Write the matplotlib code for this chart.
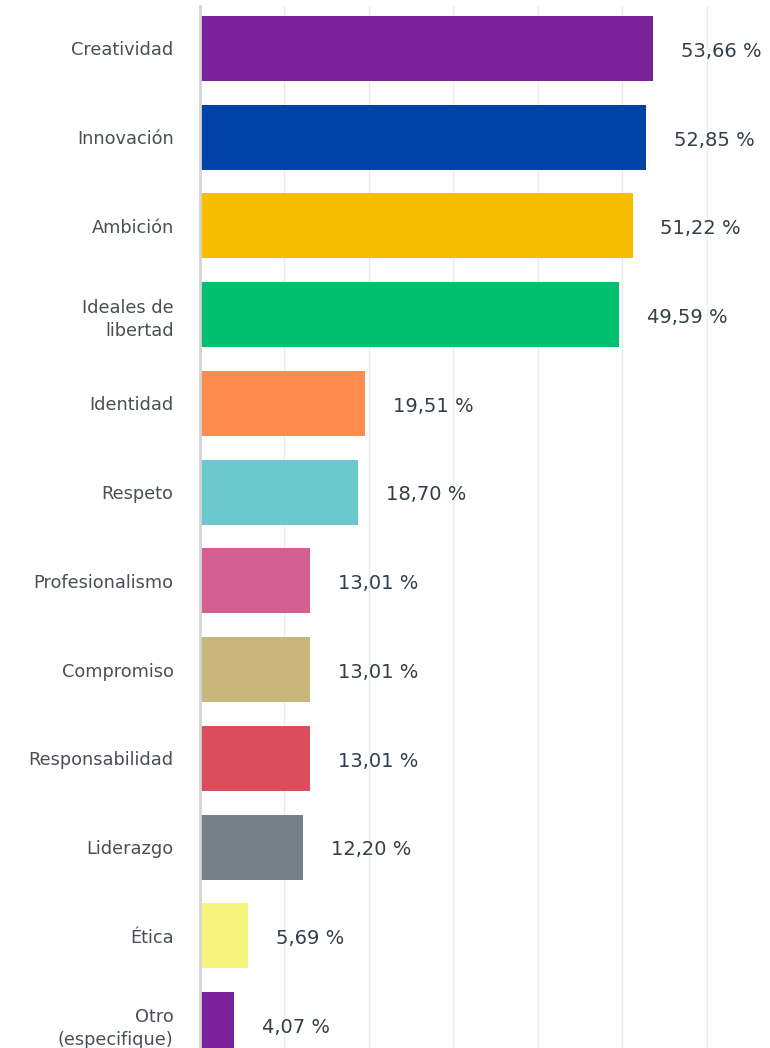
import matplotlib
matplotlib.use("Agg")
import matplotlib.pyplot as plt

categories = ["Creatividad", "Innovación", "Ambición", "Ideales de\nlibertad", "Identidad",
              "Respeto", "Profesionalismo", "Compromiso", "Responsabilidad", "Liderazgo",
              "Ética", "Otro\n(especifique)"]
values = [53.66, 52.85, 51.22, 49.59, 19.51, 18.70, 13.01, 13.01, 13.01, 12.20, 5.69, 4.07]
colors = ["#7B2199", "#0041A8", "#F7BE00", "#00BF6F", "#FF8B4F", "#6BC8CD",
          "#D25F90", "#C8B67B", "#DB4D5C", "#768086", "#F7F47E", "#7B2199"]

fig = plt.figure(figsize=(7.7, 10.48), dpi=100)
ax = fig.add_axes([200 / 770, 0, 1 - 200 / 770, 1 - 6 / 1048])

ypos = list(range(len(categories)))
ax.barh(ypos, values, height=0.733, color=colors, zorder=3)

# value labels to the right of each bar
for y, v in zip(ypos, values):
    ax.annotate(f"{v:.2f} %".replace(".", ","), xy=(v, y), xytext=(20, -2),
                textcoords="offset points", va="center", ha="left",
                fontsize=14, color="#333e48", family="DejaVu Sans")

ax.set_xlim(0, 67.5)
ax.set_ylim(11.265, -0.479)
ax.set_yticks(ypos)
ax.set_yticklabels(categories, fontsize=12.8, color="#4a4f55", family="DejaVu Sans",
                   linespacing=1.35)
ax.tick_params(axis="y", length=0, pad=19)
ax.set_xticks([10, 20, 30, 40, 50, 60])
ax.tick_params(axis="x", length=0, labelbottom=False)
ax.grid(axis="x", color="#ebebeb", linewidth=1, zorder=0)

for side in ["top", "right", "bottom"]:
    ax.spines[side].set_visible(False)
ax.spines["left"].set_color("#d4d4d4")
ax.spines["left"].set_linewidth(2)
ax.spines["left"].set_zorder(4)

plt.savefig("out.png", dpi=100)
